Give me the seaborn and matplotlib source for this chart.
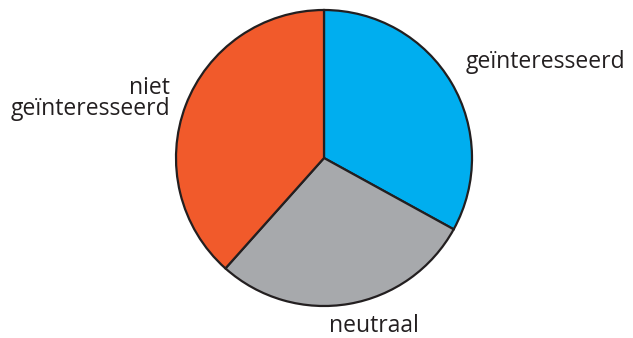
import matplotlib
matplotlib.use("Agg")
import matplotlib.pyplot as plt
import seaborn as sns

labels = ["geïnteresseerd", "neutraal", "niet\ngeïnteresseerd"]
values = [33, 28.6, 38.4]
colors = ["#00AEEF", "#A7A9AC", "#F15A2B"]

sns.set_theme(style="white")
plt.rcParams["font.family"] = ["Open Sans", "DejaVu Sans"]

W, H = 633, 338
fig = plt.figure(figsize=(W / 100, H / 100), dpi=100)
cx, cy, r = 324, 158, 148
ax = fig.add_axes([(cx - r) / W, (H - cy - r) / H, 2 * r / W, 2 * r / H])

ax.pie(values, colors=colors, startangle=90, counterclock=False,
       wedgeprops=dict(edgecolor="#231F20", linewidth=1.6))
ax.set_xlim(-1, 1)
ax.set_ylim(-1, 1)
ax.set_aspect("equal")
ax.axis("off")

def d(px, py):
    return (px - cx) / r, (cy - py) / r

fs = 16.5
tc = "#231F20"
x, y = d(466, 68.3)
ax.text(x, y, labels[0], ha="left", va="baseline", fontsize=fs, color=tc)
x, y = d(373.5, 331.7)
ax.text(x, y, labels[1], ha="center", va="baseline", fontsize=fs, color=tc)
x, y = d(170, 115)
ax.text(x, y, labels[2], ha="right", va="baseline", fontsize=fs, color=tc,
        multialignment="right", linespacing=0.82)

fig.savefig("out.png", dpi=100)
